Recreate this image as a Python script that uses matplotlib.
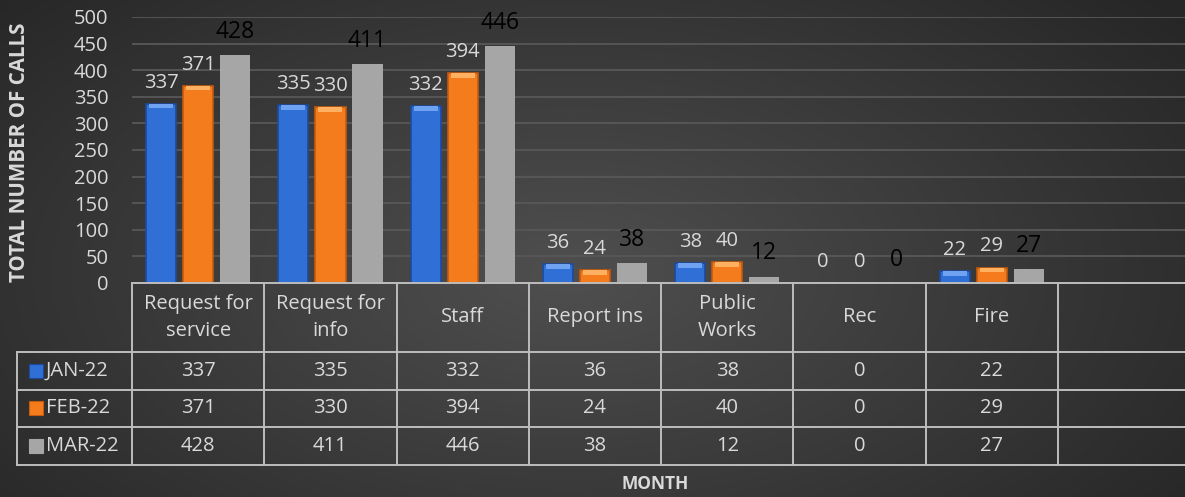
import numpy as np
import matplotlib.pyplot as plt
import matplotlib.transforms as mtransforms

categories = ['Request for\nservice', 'Request for\ninfo', 'Staff', 'Report ins',
              'Public\nWorks', 'Rec', 'Fire', '']
series = ['JAN-22', 'FEB-22', 'MAR-22']
jan = [337, 335, 332, 36, 38, 0, 22]
feb = [371, 330, 394, 24, 40, 0, 29]
mar = [428, 411, 446, 38, 12, 0, 27]
yticks = [0, 50, 100, 150, 200, 250, 300, 350, 400, 450, 500]

plt.rcParams['font.family'] = ['Open Sans', 'DejaVu Sans']
txt = '#d9d9d9'
fs = 14.5

fig = plt.figure(figsize=(11.85, 4.97), dpi=100)

# radial dark background
bg = fig.add_axes([0, 0, 1, 1], zorder=-10)
yy, xx = np.mgrid[0:1:300j, 0:1:600j]
r = np.sqrt(((xx - 0.48) / 0.7) ** 2 + ((yy - 0.55) / 0.9) ** 2)
g = np.clip(0.31 - 0.17 * r, 0.15, 0.31)
bg.imshow(np.dstack([g, g, g]), aspect='auto', extent=[0, 1, 0, 1],
          interpolation='bilinear')
bg.axis('off')

ax = fig.add_axes([0.1114, 0.4306, 0.893, 0.5352])
ax.patch.set_alpha(0)

x = np.arange(len(jan))
w = 0.228
off = 0.28
styles = [('#2f6fd6', '#1d4a9a', '#6fa3f2'),
          ('#f57c1c', '#c45a0e', '#ffb060'),
          ('#a6a6a6', '#a6a6a6', '#a6a6a6')]
for k, vals in enumerate([jan, feb, mar]):
    face, dark, light = styles[k]
    xs = x + (k - 1) * off
    lw = [1.2 if (k < 2 and v > 0) else 0 for v in vals]
    ax.bar(xs, vals, w, color=face, edgecolor=dark, linewidth=lw, zorder=3)
    if k < 2:
        # bevel highlight at top of bar
        cap = [min(v, 9) for v in vals]
        ax.bar(xs, cap, w * 0.8, bottom=[v - c for v, c in zip(vals, cap)],
               color=light, edgecolor='none', zorder=4)
    for xi, v in zip(xs, vals):
        if k < 2:
            ax.annotate(str(v), (xi, v), xytext=(0, 8), textcoords='offset points',
                        ha='center', va='bottom', color=txt, fontsize=fs)
        else:
            ax.annotate(str(v), (xi, v), xytext=(0, 8), textcoords='offset points',
                        ha='center', va='bottom', color='black', fontsize=16.5)

ax.set_xlim(-0.5, len(categories) - 0.5)
ax.set_ylim(0, 500)
ax.set_yticks(yticks)
ax.set_yticklabels([str(t) for t in yticks], color=txt, fontsize=fs)
ax.tick_params(axis='y', length=0, pad=17)
ax.set_xticks([])
ax.grid(axis='y', color='#585858', linewidth=1.3, zorder=0)
for s in ax.spines.values():
    s.set_visible(False)

# data table drawn under the axis
tr = mtransforms.blended_transform_factory(ax.transData, ax.transAxes)
ph = 266.0
rows_y = [0, -69 / ph, -107 / ph, -144 / ph, -182 / ph]
lab_left = -0.5 - 115 / 132.25
right = len(categories) - 0.5 + 0.2
lc = '#bdbdbd'
ax.plot([-0.5, right], [0, 0], color=lc, lw=1.4, transform=tr, clip_on=False, zorder=5)
for yv in rows_y[1:]:
    ax.plot([lab_left, right], [yv, yv], color=lc, lw=1.4, transform=tr, clip_on=False)
ax.plot([lab_left, lab_left], [rows_y[1], rows_y[-1]], color=lc, lw=1.4,
        transform=tr, clip_on=False)
for b in range(len(categories)):
    ax.plot([b - 0.5, b - 0.5], [0, rows_y[-1]], color=lc, lw=1.4,
            transform=tr, clip_on=False)
for i, cat in enumerate(categories):
    ax.text(i, rows_y[1] / 2, cat, transform=tr, ha='center', va='center',
            color=txt, fontsize=fs, linespacing=1.45)
for j, vals in enumerate([jan, feb, mar]):
    yc = (rows_y[j + 1] + rows_y[j + 2]) / 2
    for i, v in enumerate(vals):
        ax.text(i, yc, str(v), transform=tr, ha='center', va='center',
                color=txt, fontsize=fs)
    ax.text(lab_left + 0.22, yc, series[j], transform=tr, ha='left', va='center',
            color=txt, fontsize=fs)
    face, dark, light = styles[j]
    ax.scatter([lab_left + 0.14], [yc], s=95, marker='s', color=face,
               edgecolor=dark, linewidth=0.8, transform=tr, clip_on=False, zorder=6)

fig.text(20 / 1185, 1 - 152 / 497, 'TOTAL NUMBER OF CALLS', rotation=90, ha='center',
         va='center', color=txt, fontsize=14.8, fontweight='bold')
fig.text(655 / 1185, 1 - 484 / 497, 'MONTH', ha='center', va='center', color=txt,
         fontsize=12.5, fontweight='bold')

fig.savefig('out.png', dpi=100)
